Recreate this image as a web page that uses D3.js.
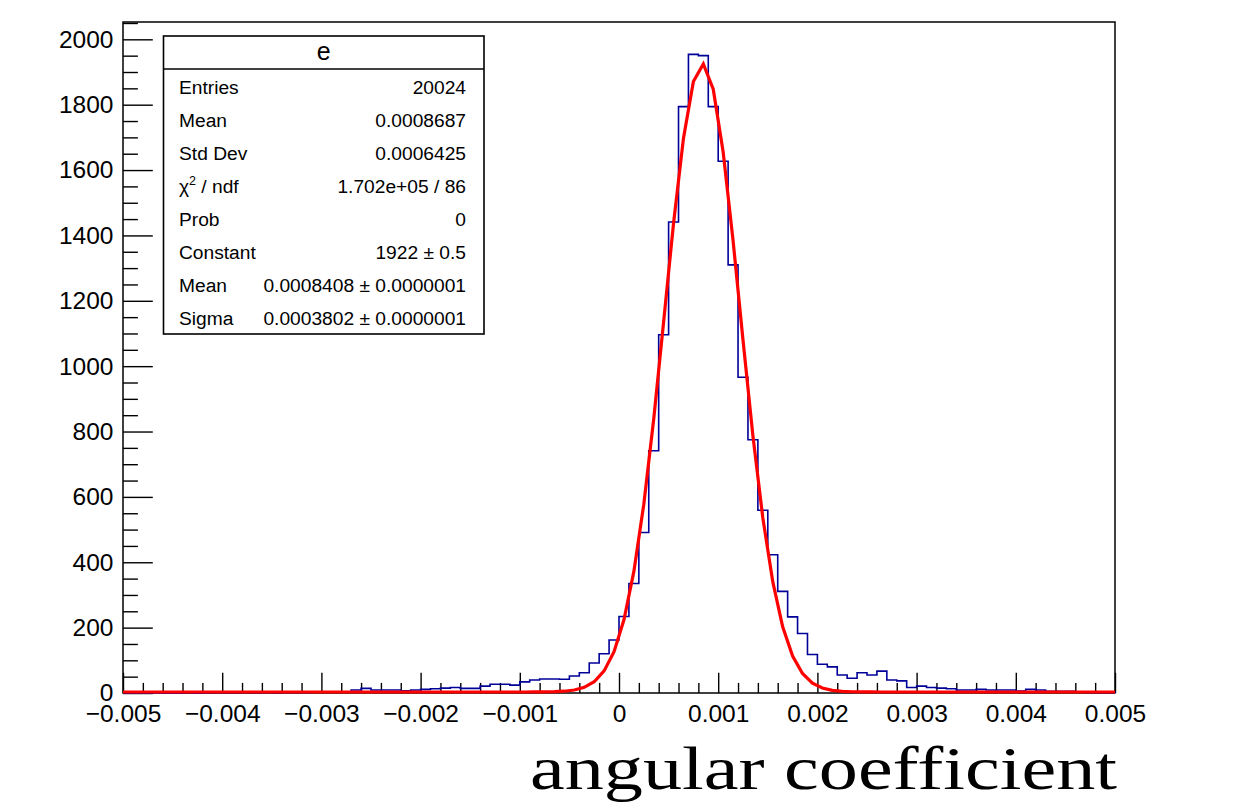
<!DOCTYPE html>
<html>
<head>
<meta charset="utf-8">
<script src="https://cdn.jsdelivr.net/npm/d3@7"></script>
<style>
  html, body { margin: 0; padding: 0; background: #fff; }
  svg { display: block; }
</style>
</head>
<body>
<svg id="chart" width="1235" height="802"></svg>
<script>
// ---------------- data ----------------
const xRange = [-0.005, 0.005];
const nBins = 100;
const binCounts = [
  0, 0, 0, 1, 0, 0, 1, 0, 1, 1,
  1, 1, 2, 1, 2, 1, 2, 2, 2, 3,
  3, 3, 4, 9, 14, 9, 9, 9, 7, 9,
  11, 13, 15, 17, 14, 14, 21, 27, 27, 24,
  34, 40, 43, 43, 42, 52, 62, 92, 120, 162,
  234, 335, 491, 741, 1096, 1441, 1794, 1954, 1950, 1794,
  1627, 1310, 966, 775, 559, 423, 311, 233, 182, 118,
  88, 80, 55, 45, 62, 55, 67, 40, 37, 17,
  21, 17, 15, 13, 9, 9, 11, 9, 9, 9,
  6, 11, 9, 5, 5, 5, 4, 2, 1, 1
];
const fitParamNames = ["Constant", "Mean", "Sigma"];
const fitParamValues = [1922, 0.0008408, 0.0003802];
const xTicks = [-0.005, -0.004, -0.003, -0.002, -0.001, 0, 0.001, 0.002, 0.003, 0.004, 0.005];
const xTickLabels = ["\u22120.005", "\u22120.004", "\u22120.003", "\u22120.002", "\u22120.001", "0", "0.001", "0.002", "0.003", "0.004", "0.005"];
const yTicks = [0, 200, 400, 600, 800, 1000, 1200, 1400, 1600, 1800, 2000];
const yTickLabels = ["0", "200", "400", "600", "800", "1000", "1200", "1400", "1600", "1800", "2000"];
const statsTitle = "e";
const statsLabels = ["Entries", "Mean", "Std Dev", "\u03C7\u00B2 / ndf", "Prob", "Constant", "Mean", "Sigma"];
const statsValues = ["20024", "0.0008687", "0.0006425", "1.702e+05 / 86", "0", "1922 \u00B1 0.5", "0.0008408 \u00B1 0.0000001", "0.0003802 \u00B1 0.0000001"];
const xTitle = "angular coefficient";
const yMax = 2053;

// ---------------- layout ----------------
const L = 123, R = 1115, T = 22, B = 693;
const svg = d3.select("#chart");
const x = d3.scaleLinear().domain(xRange).range([L, R]);
const y = d3.scaleLinear().domain([0, yMax]).range([B, T]);
const binW = (xRange[1] - xRange[0]) / nBins;
const sans = "'Liberation Sans', Arial, Helvetica, sans-serif";

// frame
svg.append("rect")
  .attr("x", L).attr("y", T).attr("width", R - L).attr("height", B - T)
  .attr("fill", "none").attr("stroke", "#000").attr("stroke-width", 1.5);

// y axis minor ticks
const yMinor = d3.range(0, yMax + 1, 50).filter(v => v % 200 !== 0);
svg.append("g").attr("transform", `translate(${L},0)`)
  .call(d3.axisLeft(y).tickValues(yMinor).tickSize(-14.9).tickSizeOuter(0).tickFormat(""))
  .call(g => g.select(".domain").remove())
  .call(g => g.selectAll("line").attr("stroke", "#000").attr("stroke-width", 1.4));
// y axis major
svg.append("g").attr("transform", `translate(${L},0)`)
  .call(d3.axisLeft(y).tickValues(yTicks).tickSize(-29.8).tickSizeOuter(0).tickPadding(9.5)
    .tickFormat((d, i) => yTickLabels[i]))
  .call(g => g.select(".domain").remove())
  .call(g => g.selectAll("line").attr("stroke", "#000").attr("stroke-width", 1.4))
  .call(g => g.selectAll("text").attr("font-family", sans).attr("font-size", 24.5).attr("fill", "#000"));

// x axis minor ticks
const xMinor = d3.range(0, 51).map(i => xRange[0] + i * 0.0002).filter((v, i) => i % 5 !== 0);
svg.append("g").attr("transform", `translate(0,${B})`)
  .call(d3.axisBottom(x).tickValues(xMinor).tickSize(-10.1).tickSizeOuter(0).tickFormat(""))
  .call(g => g.select(".domain").remove())
  .call(g => g.selectAll("line").attr("stroke", "#000").attr("stroke-width", 1.4));
// x axis major
svg.append("g").attr("transform", `translate(0,${B})`)
  .call(d3.axisBottom(x).tickValues(xTicks).tickSize(-20.2).tickSizeOuter(0).tickPadding(0)
    .tickFormat((d, i) => xTickLabels[i]))
  .call(g => g.select(".domain").remove())
  .call(g => g.selectAll("line").attr("stroke", "#000").attr("stroke-width", 1.4))
  .call(g => g.selectAll("text").attr("font-family", sans).attr("font-size", 24.5).attr("fill", "#000")
    .attr("dy", null).attr("y", 29));

// histogram (step outline)
const p = d3.path();
p.moveTo(x(xRange[0]), y(0));
binCounts.forEach((v, i) => {
  const x0 = xRange[0] + i * binW;
  p.lineTo(x(x0), y(v));
  p.lineTo(x(x0 + binW), y(v));
});
p.lineTo(x(xRange[1]), y(0));
svg.append("path").attr("d", p.toString())
  .attr("fill", "none").attr("stroke", "#000099").attr("stroke-width", 1.6);

// fit function (Gaussian with fitted parameters), sampled at bin centres
const [C, mu, sg] = fitParamValues;
const gaus = v => C * Math.exp(-0.5 * ((v - mu) / sg) ** 2);
const fitX = [xRange[0]].concat(binCounts.map((_, i) => xRange[0] + (i + 0.5) * binW), [xRange[1]]);
svg.append("path")
  .datum(fitX)
  .attr("d", d3.line().x(d => x(d)).y(d => y(gaus(d)) - 1))
  .attr("fill", "none").attr("stroke", "#ff0000").attr("stroke-width", 3.2)
  .attr("stroke-linejoin", "miter");

// stats box
const bx = 163.5, by = 36, bw = 320.5, bh = 298, hdr = 33;
const sb = svg.append("g");
sb.append("rect").attr("x", bx).attr("y", by).attr("width", bw).attr("height", bh)
  .attr("fill", "#fff").attr("stroke", "#000").attr("stroke-width", 1.6);
sb.append("line").attr("x1", bx).attr("x2", bx + bw).attr("y1", by + hdr).attr("y2", by + hdr)
  .attr("stroke", "#000").attr("stroke-width", 1.6);
sb.append("text").attr("x", bx + bw / 2).attr("y", 60).attr("text-anchor", "middle")
  .attr("font-family", sans).attr("font-size", 25).text(statsTitle);
statsLabels.forEach((lab, i) => {
  const yy = 94 + i * 33;
  const t = sb.append("text").attr("x", 179).attr("y", yy)
    .attr("font-family", sans).attr("font-size", 19.2);
  if (lab.indexOf("\u00B2") >= 0) {
    const parts = lab.split("\u00B2");
    t.append("tspan").text(parts[0]);
    t.append("tspan").attr("font-size", 12.5).attr("dy", -8).text("2");
    t.append("tspan").attr("dy", 8).text(parts[1]);
  } else {
    t.text(lab);
  }
  sb.append("text").attr("x", 466).attr("y", yy).attr("text-anchor", "end")
    .attr("font-family", sans).attr("font-size", 19.2).text(statsValues[i]);
});

// x axis title
svg.append("text").attr("x", 1117).attr("y", 789).attr("text-anchor", "end")
  .attr("font-family", "'Liberation Serif', 'Times New Roman', serif").attr("font-size", 61)
  .attr("textLength", 587).attr("lengthAdjust", "spacingAndGlyphs")
  .text(xTitle);
</script>
</body>
</html>
